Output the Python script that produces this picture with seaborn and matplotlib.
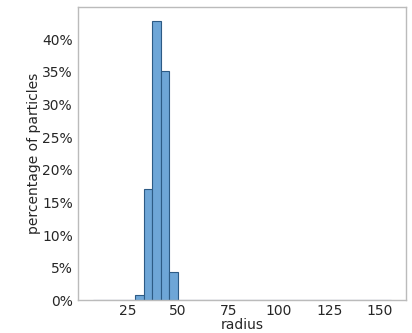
import numpy as np
import pandas as pd
import matplotlib
matplotlib.use("Agg")
import matplotlib.pyplot as plt
from matplotlib.ticker import PercentFormatter
import seaborn as sns

# Histogram of particle radii: bin edges span the full radius range,
# only a handful of bins are populated.
bin_start = 7.9
bin_width = 4.22
n_bins = 35
radius_bins = [29.0, 33.2, 37.4, 41.6, 45.9]       # left edges of populated bins
percent = [0.8, 17.0, 42.8, 35.1, 4.3]             # share of particles per bin (%)
x_ticks = [25, 50, 75, 100, 125, 150]
y_ticks = [0, 5, 10, 15, 20, 25, 30, 35, 40]

edges = [bin_start + bin_width * i for i in range(n_bins + 1)]
df = pd.DataFrame({"radius": [r + bin_width / 2 for r in radius_bins],
                   "pct": percent})

sns.set_style("white")
plt.rcParams["font.family"] = ["DejaVu Sans"]

fig = plt.figure(figsize=(4.12, 3.33), dpi=100)
ax = fig.add_axes([0.189, 0.098, 0.796, 0.881])

sns.histplot(data=df, x="radius", weights="pct", bins=edges, ax=ax,
             color="#6ea6d7", edgecolor="#2d5b85", linewidth=0.8, alpha=1.0)

span = edges[-1] - edges[0]
ax.set_xlim(edges[0] - 0.05 * span, edges[-1] + 0.05 * span)
ax.set_xticks(x_ticks)
ax.set_yticks(y_ticks)
ax.yaxis.set_major_formatter(PercentFormatter(decimals=0))
ax.set_xlabel("radius", fontsize=10, color="#262626", labelpad=0)
ax.set_ylabel("percentage of particles", fontsize=10, color="#262626", labelpad=1)
ax.tick_params(axis="both", labelsize=10, colors="#262626")
ax.tick_params(axis="x", length=0, pad=2.5)
ax.tick_params(axis="y", length=2.5, width=0.8, color="#bbbbbb", pad=1)
for s in ax.spines.values():
    s.set_color("#bbbbbb")
    s.set_linewidth(1.0)

fig.savefig("out.png", dpi=100)
